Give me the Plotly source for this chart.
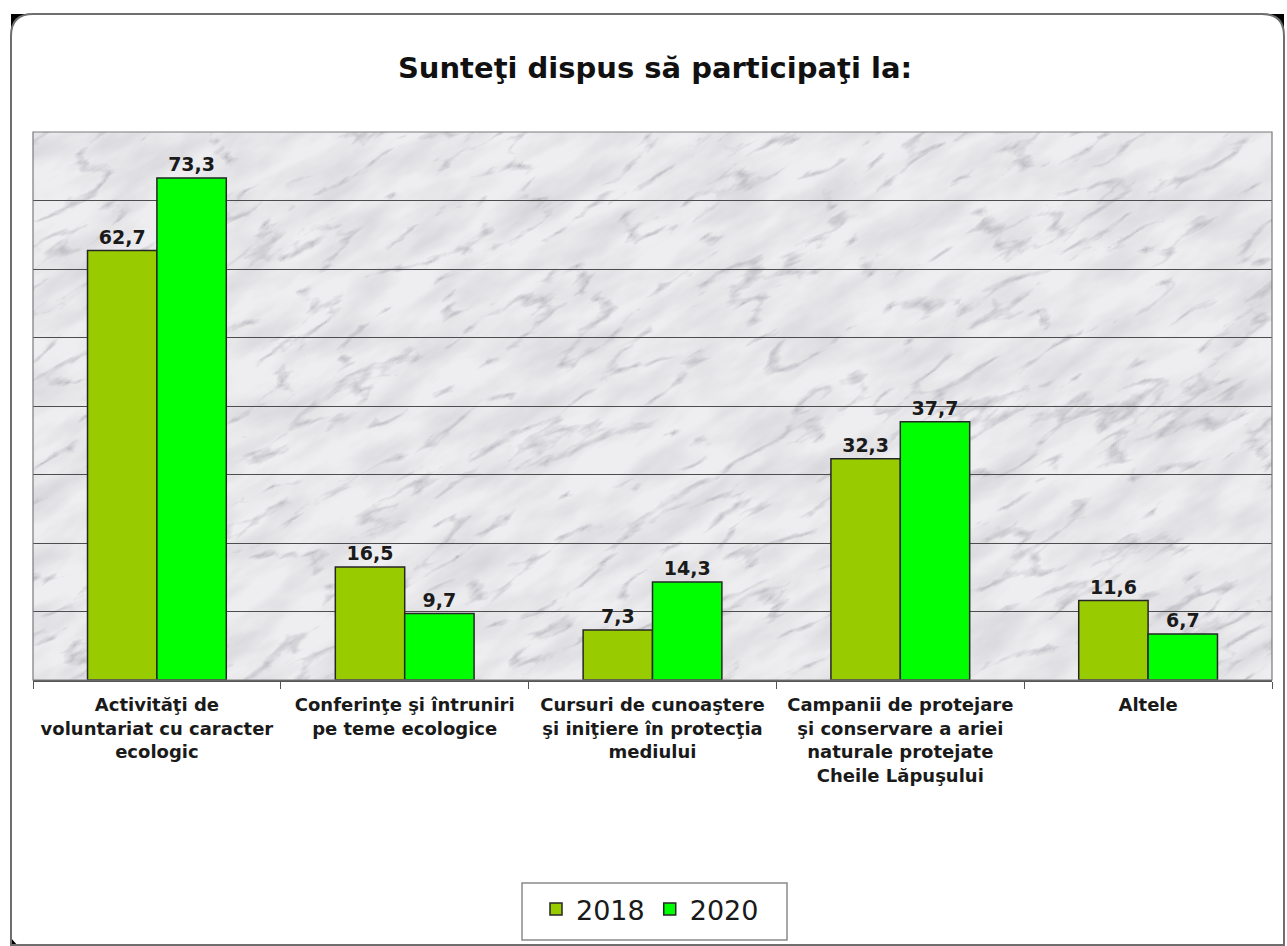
import urllib.parse
import plotly.graph_objects as go

# Survey answers (percent of respondents)
categories = [
    "Activităţi de<br>voluntariat cu caracter<br>ecologic",
    "Conferinţe şi întruniri<br>pe teme ecologice",
    "Cursuri de cunoaştere<br>şi iniţiere în protecţia<br>mediului",
    "Campanii de protejare<br>şi conservare a ariei<br>naturale protejate<br>Cheile Lăpuşului",
    "Altele",
]
values_2018 = [62.7, 16.5, 7.3, 32.3, 11.6]
values_2020 = [73.3, 9.7, 14.3, 37.7, 6.7]
series_names = ["2018", "2020"]

W, H = 1287, 946
ML, MR, MT, MB = 33, 15, 132, 266
PW, PH = W - ML - MR, H - MT - MB


def px(x):
    return (x - ML) / PW


def py(y):
    return (H - MB - y) / PH


FONT = "DejaVu Sans, Verdana, sans-serif"

fig = go.Figure()
for name, vals, color in [
    (series_names[0], values_2018, "#99cc00"),
    (series_names[1], values_2020, "#00ff00"),
]:
    fig.add_trace(go.Bar(
        name=name, x=categories, y=vals,
        marker=dict(color=color, line=dict(color="#262626", width=1.5)),
        text=vals, texttemplate="<b>%{y:.1f}</b>", textposition="outside",
        textfont=dict(family=FONT, size=19, color="#1a1a1a"),
        cliponaxis=False,
    ))

# marble-like plot background, generated with an SVG turbulence filter
marble_svg = (
    "<svg xmlns='http://www.w3.org/2000/svg' width='1239' height='548'>"
    "<filter id='v' x='0' y='0' width='100%' height='100%'>"
    "<feTurbulence type='turbulence' baseFrequency='0.008 0.026' numOctaves='5' seed='7'/>"
    "<feColorMatrix type='matrix' values='0 0 0 0 0.42  0 0 0 0 0.42  0 0 0 0 0.47  -4.5 0 0 0 0.8'/>"
    "</filter>"
    "<filter id='s' x='0' y='0' width='100%' height='100%'>"
    "<feTurbulence type='fractalNoise' baseFrequency='0.012 0.035' numOctaves='4' seed='2'/>"
    "<feColorMatrix type='matrix' values='0 0 0 0 0.62  0 0 0 0 0.62  0 0 0 0 0.66  1.3 0 0 0 -0.45'/>"
    "</filter>"
    "<rect width='100%' height='100%' fill='#eeeef0'/>"
    "<g transform='rotate(-30 620 274)'>"
    "<rect x='-400' y='-500' width='2100' height='1600' filter='url(#s)'/>"
    "<rect x='-400' y='-500' width='2100' height='1600' filter='url(#v)'/>"
    "</g></svg>"
)
fig.add_layout_image(dict(
    source="data:image/svg+xml;charset=utf-8," + urllib.parse.quote(marble_svg),
    xref="paper", yref="paper", x=0, y=1, sizex=1, sizey=1,
    sizing="stretch", layer="below", opacity=1,
))

# outer rounded frame with dark corner wedges
x0, y0, x1, y1, r = 11, 14, 1284, 945, 22
frame = (
    f"M {px(x0 + r)} {py(y0)} L {px(x1 - r)} {py(y0)} "
    f"Q {px(x1)} {py(y0)} {px(x1)} {py(y0 + r)} "
    f"L {px(x1)} {py(y1)} L {px(x0)} {py(y1)} "
    f"L {px(x0)} {py(y0 + r)} Q {px(x0)} {py(y0)} {px(x0 + r)} {py(y0)} Z"
)
shapes = [
    dict(type="path", xref="paper", yref="paper",
         path=f"M {px(x0)} {py(y0)} L {px(x0 + r)} {py(y0)} Q {px(x0)} {py(y0)} {px(x0)} {py(y0 + r)} Z",
         fillcolor="#000000", line=dict(width=0), layer="below"),
    dict(type="path", xref="paper", yref="paper",
         path=f"M {px(x1)} {py(y0)} L {px(x1 - r)} {py(y0)} Q {px(x1)} {py(y0)} {px(x1)} {py(y0 + r)} Z",
         fillcolor="#000000", line=dict(width=0), layer="below"),
    dict(type="path", xref="paper", yref="paper",
         path=f"M {px(x0)} {py(y1 + 1)} L {px(x0)} {py(y1 - 7)} L {px(x0 + 7)} {py(y1 + 1)} Z",
         fillcolor="#000000", line=dict(width=0), layer="below"),
    dict(type="path", xref="paper", yref="paper", path=frame,
         line=dict(color="#6e6e6e", width=2), layer="below"),
    dict(type="rect", xref="paper", yref="paper", x0=0, y0=0, x1=1, y1=1,
         line=dict(color="#7a7a7a", width=1.2)),
    # legend frame
    dict(type="rect", xref="paper", yref="paper",
         x0=px(522), x1=px(787), y0=py(940), y1=py(883),
         line=dict(color="#8a8a8a", width=1.5), fillcolor="rgba(0,0,0,0)"),
]

fig.update_layout(
    width=W, height=H,
    margin=dict(l=ML, r=MR, t=MT, b=MB, autoexpand=False),
    paper_bgcolor="#ffffff",
    plot_bgcolor="rgba(0,0,0,0)",
    separators=", ",
    barmode="group", bargap=0.44, bargroupgap=0,
    shapes=shapes,
    title=dict(
        text="<b>Sunteţi dispus să participaţi la:</b>",
        x=px(655), xanchor="center", xref="paper", y=1 - 68 / H, yanchor="middle",
        font=dict(family=FONT, size=29, color="#111111"),
    ),
    font=dict(family=FONT, color="#1a1a1a"),
    xaxis=dict(
        tickson="boundaries", ticks="outside", ticklen=7, tickcolor="#555555",
        showline=True, linecolor="#555555", linewidth=1.5,
        tickangle=0, ticklabelstandoff=8,
        tickfont=dict(family=FONT, size=18, color="#1a1a1a"),
        tickprefix="<b>", ticksuffix="</b>",
        showgrid=False,
    ),
    yaxis=dict(
        range=[0, 80], dtick=10, showticklabels=False, ticks="",
        showgrid=True, gridcolor="#4d4d4d", gridwidth=1.2,
        zeroline=False, showline=False,
    ),
    legend=dict(
        orientation="h", x=px(650), xanchor="center", y=py(885), yanchor="top",
        borderwidth=0, bgcolor="rgba(0,0,0,0)",
        font=dict(family=FONT, size=27, color="#1a1a1a"),
        itemwidth=30, traceorder="normal",
    ),
)

fig.write_html("out.html")
